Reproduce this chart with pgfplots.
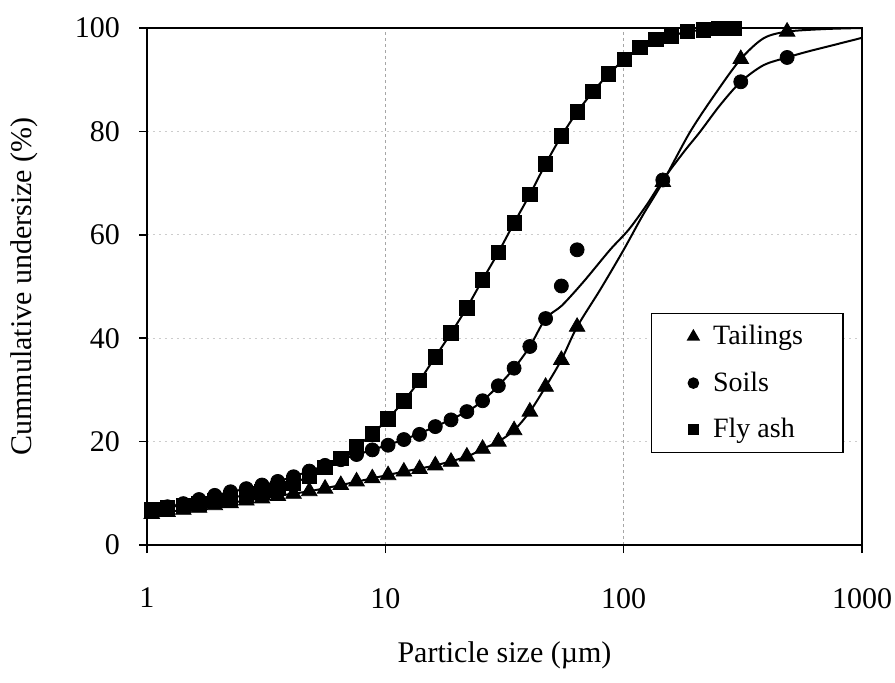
\documentclass[border=0pt]{standalone}
\usepackage{fontspec}
\setmainfont{Liberation Serif}
\usepackage{pgfplots}
\usepackage{pgfplotstable}
\pgfplotsset{compat=1.18}

% measured points (size in um, cumulative undersize in %)
\pgfplotstableread{
x      tail  soil  fly
1.047  6.0   6.8   6.9
1.219  6.4   7.4   7.3
1.420  6.8   8.0   7.7
1.653  7.2   8.8   8.1
1.925  7.7   9.6   8.6
2.241  8.1   10.3  9.1
2.610  8.6   10.9  9.7
3.039  9.0   11.6  10.3
3.538  9.5   12.3  11.0
4.120  9.9   13.2  12.0
4.797  10.4  14.3  13.3
5.586  10.9  15.4  15.0
6.505  11.6  16.5  16.8
7.574  12.3  17.5  19.0
8.819  12.9  18.4  21.5
10.27  13.5  19.3  24.4
11.96  14.2  20.4  27.9
13.92  14.7  21.4  31.8
16.21  15.4  22.9  36.4
18.87  16.1  24.2  41.0
21.98  17.1  25.8  45.9
25.59  18.6  27.9  51.3
29.80  20.0  30.8  56.6
34.70  22.2  34.2  62.3
40.40  25.8  38.4  67.8
47.04  30.6  43.8  73.7
54.77  35.8  50.1  79.1
63.78  42.2  57.1  83.8
}\lowdata

\pgfplotstableread{
x      y
74.27  87.7
86.48  91.1
100.7  93.9
117.2  96.2
136.5  97.8
159.0  98.5
185.1  99.3
215.5  99.6
250.9  99.9
292.2  99.9
}\flyhigh

\pgfplotstableread{
x    tail  soil
146  70.2  70.6
310  94.0  89.6
485  99.3  94.3
}\sieve

% fitted curves above the laser range
\pgfplotstableread{
x      y
1.047  6.0
1.420  6.8
1.925  7.7
2.610  8.6
3.538  9.5
4.797  10.4
6.505  11.6
8.819  12.9
11.96  14.2
16.21  15.4
21.98  17.1
25.59  18.6
29.80  20.0
34.70  22.2
40.40  25.8
47.04  30.6
54.77  35.8
63.78  42.2
80     49.5
100    57.1
120    63.7
146    70.2
190    79.9
246    87.7
310    94.0
386    98.0
485    99.3
700    99.8
1000   100
}\tailcurve

\pgfplotstableread{
x      y
1.047  6.8
1.420  8.0
1.925  9.6
2.610  10.9
3.538  12.3
4.797  14.3
6.505  16.5
8.819  18.4
11.96  20.4
16.21  22.9
21.98  25.8
25.59  27.9
29.80  30.8
34.70  34.2
40.40  38.4
47.04  43.8
55     46.3
67.8   50.9
87.7   57.1
105    61.0
125    65.8
146    70.6
180    76.2
209    79.9
254    85.1
310    89.6
386    92.8
485    94.3
587    95.4
759    96.7
1000   98.1
}\soilcurve

\begin{document}
\begin{tikzpicture}
\useasboundingbox (-73.5pt,-68.5pt) rectangle (374pt,272.5pt);
\begin{axis}[
  at={(0,0)}, anchor=south west,
  scale only axis, width=357.5pt, height=258.5pt,
  xmode=log, log basis x=10,
  xmin=1, xmax=1000, ymin=0, ymax=100,
  xtick={1,10,100,1000}, xticklabels={1,10,100,1000},
  ytick={0,20,40,60,80,100},
  /pgf/number format/assume math mode=true,
  tick pos=left, tick align=outside,
  major tick length=4pt, minor tick length=0pt,
  tick style={black, line width=0.8pt},
  axis line style={line width=1.4pt},
  xmajorgrids, xminorgrids, ymajorgrids,
  every axis x grid/.style={gray!70, dash pattern=on 1.5pt off 1.5pt, line width=0.4pt},
  every axis y grid/.style={gray!40, dash pattern=on 1pt off 2pt, line width=0.4pt},
  tick label style={font=\fontsize{15}{18}\selectfont},
  xticklabel style={yshift=-14pt},
  yticklabel style={xshift=-6pt},
  label style={font=\fontsize{15}{18}\selectfont},
  xlabel={Particle size (µm)},
  ylabel={Cummulative undersize (\%)},
  xlabel style={at={(axis description cs:0.5,-0.213)}, anchor=center},
  ylabel style={at={(axis description cs:-0.171,0.5)}, anchor=center},
  legend style={at={(0.705,0.449)}, anchor=north west, draw=black, line width=0.6pt,
    font=\fontsize{14}{17}\selectfont, inner xsep=18pt, inner ysep=4pt,
    row sep=8pt, column sep=5pt},
  legend cell align=left,
]
\addlegendimage{only marks, mark=triangle*, mark size=3.3pt, black}
\addlegendentry{Tailings}
\addlegendimage{only marks, mark=*, mark size=2.6pt, black}
\addlegendentry{Soils}
\addlegendimage{only marks, mark=square*, mark size=2.6pt, black}
\addlegendentry{Fly ash}

\addplot[forget plot, black, line width=1pt, smooth] table[x=x, y=y] {\tailcurve};
\addplot[forget plot, black, line width=1pt, smooth] table[x=x, y=y] {\soilcurve};
\addplot[forget plot, black, line width=1pt, smooth] table[x=x, y=fly] {\lowdata};
\addplot[forget plot, black, line width=1pt, smooth] table[x=x, y=y] {\flyhigh};
\draw[black, line width=1pt] (axis cs:63.78,83.8) -- (axis cs:74.27,87.7);

\addplot[forget plot, only marks, mark=triangle*, mark size=4.5pt, black] table[x=x, y=tail] {\lowdata};
\addplot[forget plot, only marks, mark=triangle*, mark size=4.5pt, black] table[x=x, y=tail] {\sieve};
\addplot[forget plot, only marks, mark=*, mark size=3.5pt, black] table[x=x, y=soil] {\lowdata};
\addplot[forget plot, only marks, mark=*, mark size=3.5pt, black] table[x=x, y=soil] {\sieve};
\addplot[forget plot, only marks, mark=square*, mark size=3.6pt, black] table[x=x, y=fly] {\lowdata};
\addplot[forget plot, only marks, mark=square*, mark size=3.6pt, black] table[x=x, y=y] {\flyhigh};
\end{axis}
\end{tikzpicture}
\end{document}
